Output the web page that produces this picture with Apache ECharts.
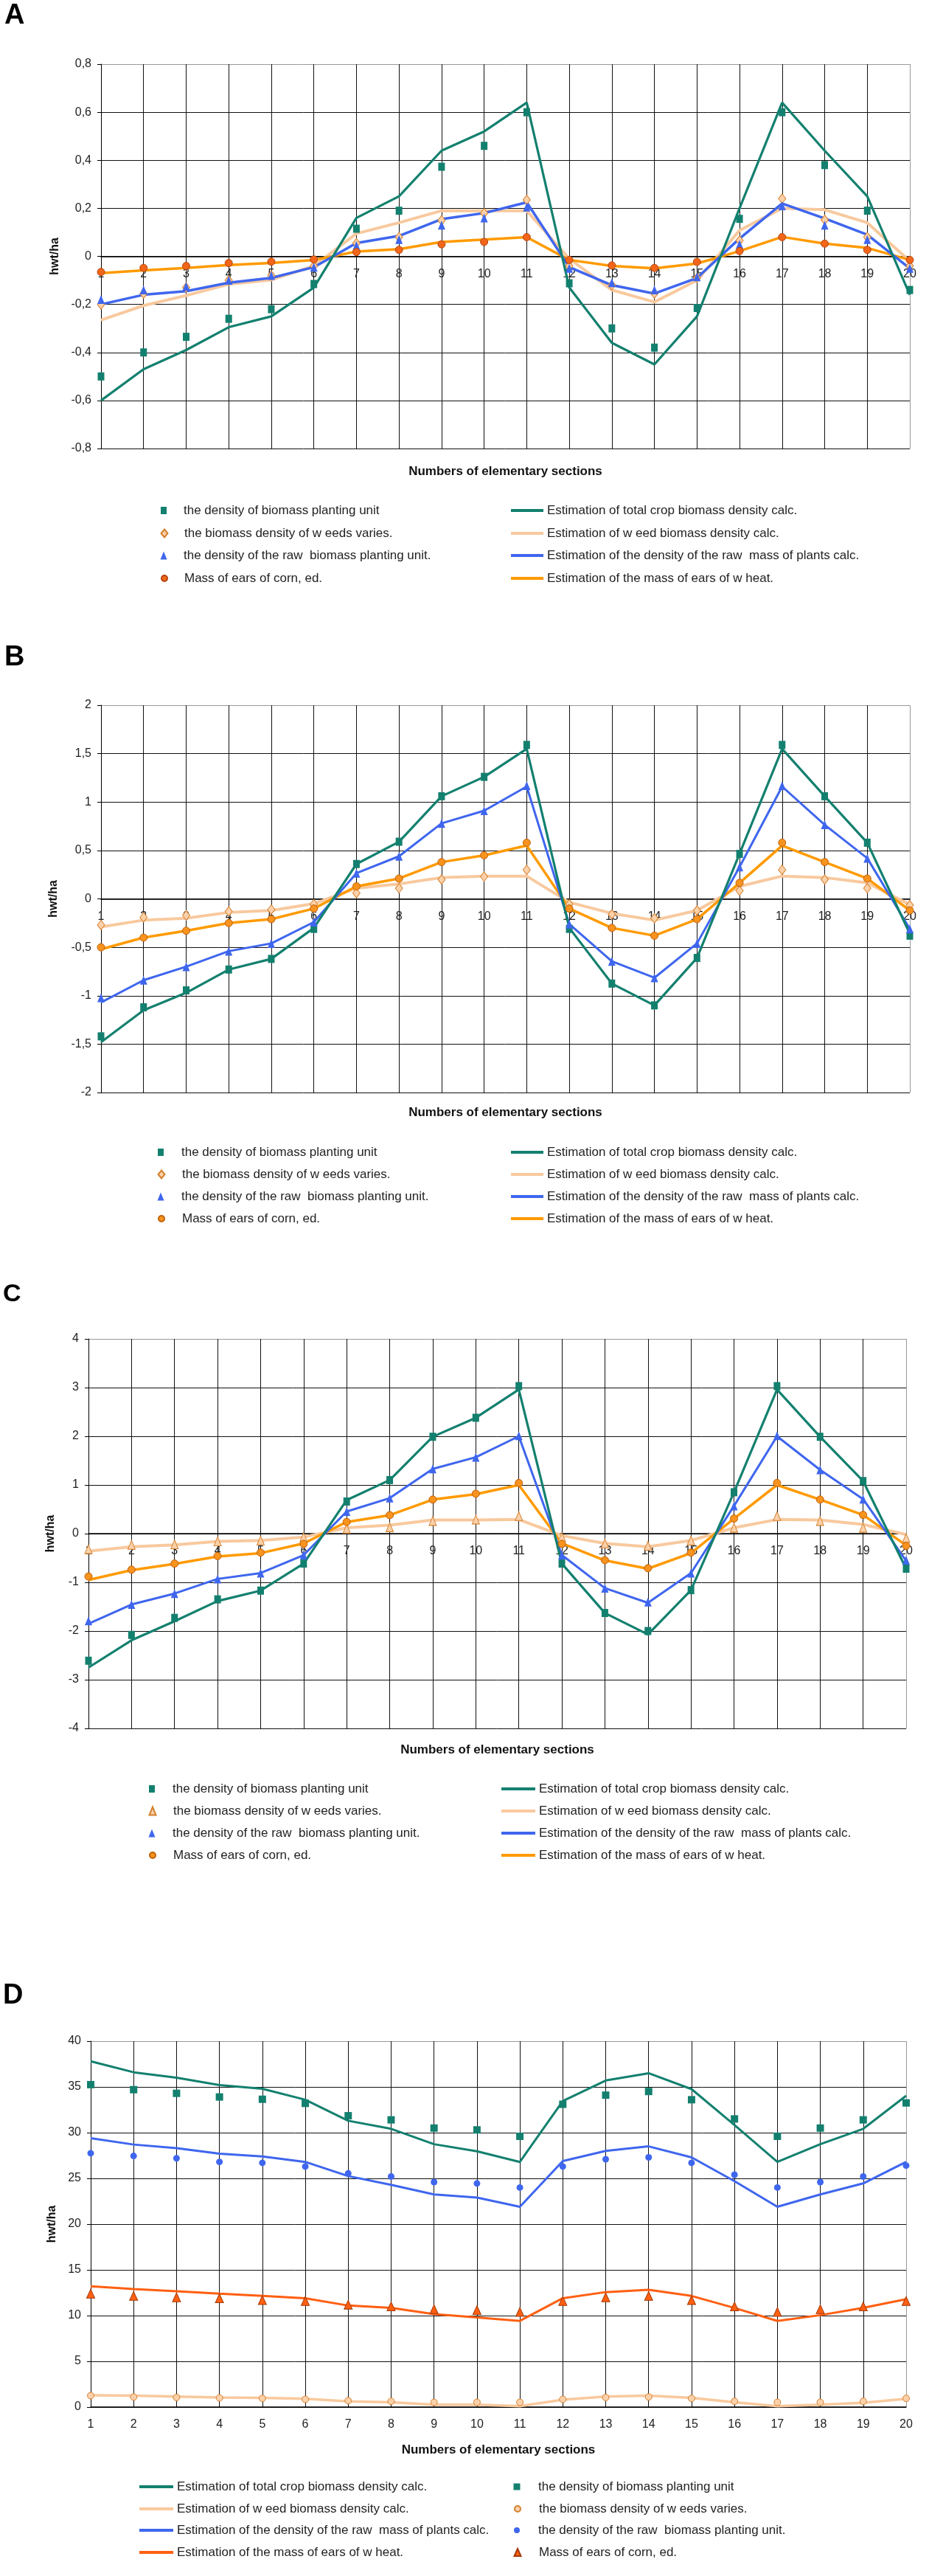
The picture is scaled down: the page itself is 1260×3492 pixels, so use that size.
<!DOCTYPE html>
<html><head><meta charset="utf-8">
<script src="https://cdn.jsdelivr.net/npm/echarts@6/dist/echarts.min.js"></script>
<style>
html,body{margin:0;padding:0;background:#fff;width:1260px;height:3492px;overflow:hidden}
.p{position:absolute;left:0;width:1260px}
</style>
</head><body>
<div id="pA" class="p" style="top:0px;height:815px"></div>
<div id="pB" class="p" style="top:815px;height:865px"></div>
<div id="pC" class="p" style="top:1680px;height:860px"></div>
<div id="pD" class="p" style="top:2540px;height:952px"></div>
<script>
// ---------- categories ----------
const categories = ['1','2','3','4','5','6','7','8','9','10','11','12','13','14','15','16','17','18','19','20'];
const xAxisTitle = 'Numbers of elementary sections';
const yAxisTitle = 'hwt/ha';

// ---------- legend names ----------
const N_totalObs = 'the density of biomass planting unit';
const N_totalCalc = 'Estimation of total crop biomass density calc.';
const N_weedObs = 'the biomass density of w eeds varies.';
const N_weedCalc = 'Estimation of w eed biomass density calc.';
const N_rawObs = 'the density of the raw  biomass planting unit.';
const N_rawCalc = 'Estimation of the density of the raw  mass of plants calc.';
const N_earsObs = 'Mass of ears of corn, ed.';
const N_wheatCalc = 'Estimation of the mass of ears of w heat.';

// ---------- panel A ----------
const A_totalObs = [-0.50,-0.40,-0.335,-0.26,-0.22,-0.115,0.115,0.19,0.373,0.46,0.60,-0.112,-0.30,-0.38,-0.215,0.156,0.60,0.38,0.19,-0.14];
const A_totalCalc = [-0.60,-0.47,-0.39,-0.295,-0.25,-0.13,0.16,0.25,0.44,0.52,0.64,-0.13,-0.36,-0.45,-0.25,0.20,0.64,0.44,0.25,-0.16];
const A_weedObs = [-0.20,-0.155,-0.13,-0.10,-0.08,-0.04,0.055,0.08,0.15,0.18,0.235,-0.04,-0.12,-0.155,-0.09,0.066,0.24,0.152,0.08,-0.04];
const A_weedCalc = [-0.265,-0.205,-0.163,-0.116,-0.098,-0.04,0.095,0.14,0.19,0.19,0.19,-0.01,-0.14,-0.19,-0.10,0.108,0.20,0.194,0.14,-0.02];
const A_rawObs = [-0.18,-0.14,-0.125,-0.10,-0.08,-0.045,0.045,0.07,0.13,0.16,0.205,-0.05,-0.11,-0.14,-0.085,0.05,0.21,0.13,0.07,-0.05];
const A_rawCalc = [-0.20,-0.16,-0.145,-0.11,-0.09,-0.045,0.055,0.085,0.155,0.18,0.225,-0.045,-0.12,-0.155,-0.09,0.074,0.22,0.158,0.09,-0.05];
const A_earsObs = [-0.065,-0.048,-0.04,-0.028,-0.022,-0.013,0.018,0.027,0.05,0.06,0.08,-0.015,-0.038,-0.048,-0.023,0.022,0.08,0.053,0.027,-0.015];
const A_wheatCalc = [-0.07,-0.058,-0.048,-0.036,-0.028,-0.015,0.02,0.03,0.06,0.07,0.08,-0.015,-0.04,-0.05,-0.03,0.022,0.081,0.053,0.035,-0.015];

// ---------- panel B ----------
const B_totalObs = [-1.42,-1.12,-0.945,-0.73,-0.62,-0.31,0.36,0.59,1.06,1.26,1.59,-0.31,-0.875,-1.10,-0.61,0.465,1.59,1.06,0.58,-0.38];
const B_totalCalc = [-1.48,-1.15,-0.97,-0.73,-0.62,-0.30,0.36,0.59,1.06,1.26,1.55,-0.30,-0.875,-1.10,-0.61,0.465,1.55,1.06,0.58,-0.36];
const B_weedObs = [-0.27,-0.19,-0.17,-0.13,-0.11,-0.055,0.06,0.11,0.20,0.23,0.30,-0.055,-0.16,-0.20,-0.12,0.085,0.30,0.20,0.11,-0.065];
const B_weedCalc = [-0.29,-0.22,-0.20,-0.14,-0.12,-0.05,0.11,0.155,0.22,0.235,0.235,-0.035,-0.15,-0.22,-0.12,0.13,0.235,0.22,0.165,-0.06];
const B_rawObs = [-1.02,-0.84,-0.70,-0.54,-0.46,-0.24,0.265,0.44,0.78,0.91,1.17,-0.26,-0.645,-0.815,-0.46,0.33,1.17,0.765,0.42,-0.31];
const B_rawCalc = [-1.07,-0.84,-0.70,-0.54,-0.46,-0.24,0.265,0.44,0.78,0.91,1.16,-0.26,-0.645,-0.815,-0.46,0.33,1.16,0.765,0.42,-0.31];
const B_earsObs = [-0.50,-0.40,-0.33,-0.25,-0.21,-0.10,0.13,0.21,0.38,0.45,0.58,-0.10,-0.30,-0.38,-0.21,0.165,0.58,0.38,0.21,-0.12];
const B_wheatCalc = [-0.52,-0.40,-0.33,-0.25,-0.21,-0.10,0.13,0.21,0.38,0.45,0.55,-0.10,-0.30,-0.38,-0.21,0.165,0.55,0.38,0.21,-0.12];

// ---------- panel C ----------
const C_totalObs = [-2.61,-2.08,-1.73,-1.35,-1.17,-0.615,0.66,1.10,1.99,2.38,3.03,-0.615,-1.63,-2.0,-1.16,0.85,3.03,1.99,1.08,-0.72];
const C_totalCalc = [-2.75,-2.19,-1.80,-1.385,-1.17,-0.615,0.69,1.10,1.99,2.38,2.96,-0.615,-1.63,-2.07,-1.16,0.85,2.96,1.99,1.08,-0.72];
const C_weedObs = [-0.32,-0.23,-0.22,-0.16,-0.14,-0.07,0.10,0.13,0.26,0.29,0.36,-0.07,-0.20,-0.25,-0.14,0.12,0.36,0.26,0.12,-0.09];
const C_weedCalc = [-0.36,-0.27,-0.23,-0.16,-0.14,-0.07,0.12,0.175,0.28,0.28,0.29,-0.04,-0.20,-0.27,-0.14,0.12,0.29,0.28,0.19,-0.02];
const C_rawObs = [-1.79,-1.455,-1.23,-0.93,-0.81,-0.44,0.455,0.73,1.33,1.57,2.01,-0.44,-1.12,-1.405,-0.81,0.57,2.01,1.31,0.71,-0.545];
const C_rawCalc = [-1.85,-1.455,-1.23,-0.93,-0.81,-0.44,0.455,0.73,1.33,1.57,2.0,-0.44,-1.12,-1.42,-0.81,0.57,2.0,1.31,0.71,-0.56];
const C_earsObs = [-0.88,-0.74,-0.615,-0.46,-0.39,-0.21,0.24,0.38,0.70,0.82,1.04,-0.21,-0.545,-0.71,-0.39,0.31,1.04,0.70,0.385,-0.25];
const C_wheatCalc = [-0.95,-0.75,-0.62,-0.47,-0.40,-0.20,0.24,0.38,0.70,0.81,1.0,-0.20,-0.55,-0.72,-0.40,0.31,1.0,0.70,0.385,-0.24];

// ---------- panel D ----------
const D_totalCalc = [37.8,36.6,36.0,35.2,34.8,33.6,31.3,30.42,28.74,27.96,26.8,33.45,35.7,36.5,34.76,30.84,26.8,28.74,30.42,34.03];
const D_totalObs = [35.25,34.7,34.3,33.9,33.65,33.2,31.85,31.4,30.5,30.3,29.6,33.1,34.1,34.5,33.6,31.5,29.6,30.5,31.4,33.25];
const D_rawCalc = [29.4,28.7,28.3,27.7,27.4,26.8,25.25,24.3,23.25,22.9,21.9,26.9,28.0,28.5,27.3,24.7,21.9,23.25,24.45,26.8];
const D_rawObs = [27.75,27.45,27.2,26.8,26.7,26.3,25.55,25.2,24.6,24.45,24.0,26.3,27.1,27.3,26.7,25.4,24.0,24.6,25.2,26.4];
const D_wheatCalc = [13.2,12.9,12.67,12.4,12.15,11.9,11.1,10.84,10.16,9.8,9.42,11.9,12.57,12.83,12.15,10.84,9.42,10.05,10.84,11.8];
const D_earsObs = [12.4,12.15,12.0,11.9,11.7,11.6,11.2,11.0,10.7,10.6,10.4,11.6,12.0,12.15,11.7,11.0,10.4,10.7,11.0,11.6];
const D_weedCalc = [1.3,1.25,1.15,1.05,1.0,0.9,0.63,0.52,0.26,0.26,0.1,0.8,1.15,1.25,1.0,0.52,0.1,0.26,0.47,0.9];
const D_weedObs = [1.25,1.1,1.05,1.0,0.95,0.85,0.7,0.63,0.52,0.52,0.52,0.85,1.05,1.1,0.95,0.63,0.52,0.52,0.63,0.95];

// ---------- styling ----------
const FONT = '"Liberation Sans", Arial, sans-serif';
const TEAL = '#13806f';
const PEACH = '#f8c99e';
const BLUE = '#3f66ee';
const ORANGE = '#ff9a00';
const REDOR = '#ff5f12';
const LEG_FS = 17, LEG_LH = 18;

function lineS(name, data, color, width) {
  return { type: 'line', name: name, data: data, color: color, symbol: 'none', z: 2,
    lineStyle: { color: color, width: width }, itemStyle: { color: color }, silent: true, animation: false };
}
function dotS(name, data, symbol, size, color, border) {
  return { type: 'scatter', name: name, data: data, symbol: symbol, symbolSize: size, z: 5,
    itemStyle: { color: color, borderColor: border || color, borderWidth: border ? 1 : 0, opacity: 1 },
    silent: true, animation: false };
}

function fmtY(v) { const r = Math.round(v * 100) / 100; return String(r).replace('.', ','); }

function buildOption(P) {
  const T = P.divTop;
  const gl = P.grid[0], gt = P.grid[1] - T, gw = P.grid[2] - P.grid[0], gh = P.grid[3] - P.grid[1];
  const zeroY = gt + gh * (P.yMax - 0) / (P.yMax - P.yMin);
  const xOffset = zeroY - (gt + gh);
  const nY = Math.round((P.yMax - P.yMin) / P.yInt) + 1;
  const yCols = []; for (let i = 0; i < nY; i++) yCols.push(i === nY - 1 ? '#999' : '#111');
  const xCols = []; for (let i = 0; i < categories.length; i++) xCols.push(i === categories.length - 1 ? '#999' : '#111');
  const legends = [];
  P.legendRows.forEach(function (row, i) {
    const y = row - T - LEG_LH / 2;
    [P.colL, P.colR].forEach(function (col) {
      const e = col.items[i];
      const ts = { fontSize: LEG_FS, fontFamily: FONT, color: '#222', lineHeight: LEG_LH };
      if (e.icon === 'line') {
        legends.push({
          show: true, orient: 'horizontal', left: col.x, top: y, padding: 0, itemGap: 0,
          itemWidth: col.w, itemHeight: 4, selectedMode: false,
          data: [{ name: e.name, icon: 'rect' }], textStyle: ts
        });
      } else {
        const sz = e.size;
        const spacer = Math.max(0, col.textX - (col.cx + sz / 2) - 5);
        ts.rich = { s: { width: spacer, fontSize: LEG_FS, lineHeight: LEG_LH } };
        legends.push({
          show: true, orient: 'horizontal', left: col.cx - sz / 2, top: y, padding: 0, itemGap: 0,
          itemWidth: sz, itemHeight: e.h || sz, selectedMode: false,
          data: [{ name: e.name, icon: e.icon }], textStyle: ts,
          formatter: function (n) { return '{s|}' + n; }
        });
      }
    });
  });
  return {
    animation: false,
    backgroundColor: 'transparent',
    textStyle: { fontFamily: FONT },
    title: [{ text: P.label, left: P.labelX, top: P.labelTop - T, padding: 0,
      textStyle: { fontSize: P.labelSize, fontWeight: 'bold', fontFamily: FONT, color: '#000' } }],
    graphic: [{ type: 'text', x: gl + gw / 2, y: P.xNameY - T, silent: true,
      style: { text: xAxisTitle, textAlign: 'center', textVerticalAlign: 'middle', align: 'center', verticalAlign: 'middle',
        font: 'bold 17px ' + FONT, fill: '#111' } }],
    legend: legends,
    grid: [{ left: gl, top: gt, width: gw, height: gh, containLabel: false, outerBoundsMode: 'none', show: false }],
    xAxis: [{ type: 'category', data: categories, boundaryGap: false, position: 'bottom', offset: xOffset,
      axisLine: { show: true, onZero: false, lineStyle: { color: '#000', width: 1.5 } },
      axisTick: { show: false },
      axisLabel: { show: true, interval: 0, margin: P.xLabMargin, fontSize: 16, color: '#222', fontFamily: FONT },
      splitLine: { show: true, interval: 0, lineStyle: { color: xCols, width: 1 } } }],
    yAxis: [{ type: 'value', min: P.yMin, max: P.yMax, interval: P.yInt,
      name: yAxisTitle, nameLocation: 'middle', nameGap: P.yNameGap, nameRotate: 90,
      nameTextStyle: { fontSize: 16, fontWeight: 'bold', color: '#111', fontFamily: FONT },
      axisLine: { show: true, lineStyle: { color: '#000', width: 1 } },
      axisTick: { show: true, length: 5, lineStyle: { color: '#000' } },
      axisLabel: { show: true, margin: 13, fontSize: 16, color: '#222', fontFamily: FONT, formatter: fmtY },
      splitLine: { show: true, lineStyle: { color: yCols, width: 1 } } }],
    series: P.series
  };
}

const markerItemsABC = function (weedIcon) {
  return [
    { name: N_totalObs, icon: 'rect', size: 8, h: 10 },
    { name: N_weedObs, icon: weedIcon, size: 9, h: 11 },
    { name: N_rawObs, icon: 'triangle', size: 9, h: 11 },
    { name: N_earsObs, icon: 'circle', size: 8, h: 9 }];
};
const lineItems = [
  { name: N_totalCalc, icon: 'line' }, { name: N_weedCalc, icon: 'line' },
  { name: N_rawCalc, icon: 'line' }, { name: N_wheatCalc, icon: 'line' }];

const panels = [
  { id: 'pA', divTop: 0, label: 'A', labelX: 6, labelTop: 3, labelSize: 38,
    grid: [137, 87, 1234, 608], yMin: -0.8, yMax: 0.8, yInt: 0.2, yNameGap: 54, xLabMargin: 16, xNameY: 639,
    legendRows: [692, 723, 753, 784],
    colL: { cx: 222, textX: 249, items: markerItemsABC('diamond') },
    colR: { x: 693, w: 44, items: lineItems },
    series: [
      lineS(N_weedCalc, A_weedCalc, PEACH, 4),
      lineS(N_wheatCalc, A_wheatCalc, ORANGE, 3.5),
      lineS(N_rawCalc, A_rawCalc, BLUE, 3.5),
      lineS(N_totalCalc, A_totalCalc, TEAL, 3.2),
      dotS(N_totalObs, A_totalObs, 'rect', [9, 11], TEAL),
      dotS(N_weedObs, A_weedObs, 'diamond', [10, 13], '#fbd1aa', '#d4802e'),
      dotS(N_rawObs, A_rawObs, 'triangle', [10, 12], BLUE),
      dotS(N_earsObs, A_earsObs, 'circle', 10, '#f2661a', '#b34510')
    ] },
  { id: 'pB', divTop: 815, label: 'B', labelX: 6, labelTop: 873, labelSize: 38,
    grid: [137, 956, 1234, 1481], yMin: -2, yMax: 2, yInt: 0.5, yNameGap: 56, xLabMargin: 16, xNameY: 1508,
    legendRows: [1562, 1592, 1622, 1652],
    colL: { cx: 218, textX: 246, items: markerItemsABC('diamond') },
    colR: { x: 693, w: 44, items: lineItems },
    series: [
      lineS(N_weedCalc, B_weedCalc, PEACH, 4),
      lineS(N_wheatCalc, B_wheatCalc, ORANGE, 3.5),
      lineS(N_rawCalc, B_rawCalc, BLUE, 3),
      lineS(N_totalCalc, B_totalCalc, TEAL, 3.2),
      dotS(N_totalObs, B_totalObs, 'rect', [9, 11], TEAL),
      dotS(N_weedObs, B_weedObs, 'diamond', [10, 13], '#fbd1aa', '#d4802e'),
      dotS(N_rawObs, B_rawObs, 'triangle', [10, 12], BLUE),
      dotS(N_earsObs, B_earsObs, 'circle', 10, '#f7931e', '#c0600c')
    ] },
  { id: 'pC', divTop: 1680, label: 'C', labelX: 4, labelTop: 1738, labelSize: 34,
    grid: [120, 1815, 1229, 2343], yMin: -4, yMax: 4, yInt: 1, yNameGap: 43, xLabMargin: 16, xNameY: 2372,
    legendRows: [2425, 2455, 2485, 2515],
    colL: { cx: 206, textX: 234, items: markerItemsABC('triangle') },
    colR: { x: 680, w: 46, items: lineItems },
    series: [
      lineS(N_weedCalc, C_weedCalc, PEACH, 4),
      lineS(N_wheatCalc, C_wheatCalc, ORANGE, 3.5),
      lineS(N_rawCalc, C_rawCalc, BLUE, 3),
      lineS(N_totalCalc, C_totalCalc, TEAL, 3.2),
      dotS(N_totalObs, C_totalObs, 'rect', [9, 11], TEAL),
      dotS(N_weedObs, C_weedObs, 'triangle', [10, 12], '#fbd1aa', '#d4802e'),
      dotS(N_rawObs, C_rawObs, 'triangle', [10, 12], BLUE),
      dotS(N_earsObs, C_earsObs, 'circle', 10, '#f7931e', '#c0600c')
    ] },
  { id: 'pD', divTop: 2540, label: 'D', labelX: 4, labelTop: 2687, labelSize: 38,
    grid: [123, 2767, 1229, 3263], yMin: 0, yMax: 40, yInt: 5, yNameGap: 44, xLabMargin: 16, xNameY: 3321,
    legendRows: [3371, 3401, 3430, 3460],
    colL: { x: 189, w: 46, items: lineItems },
    colR: { cx: 701, textX: 730, items: [
      { name: N_totalObs, icon: 'rect', size: 9, h: 9 },
      { name: N_weedObs, icon: 'circle', size: 8, h: 8 },
      { name: N_rawObs, icon: 'circle', size: 8, h: 8 },
      { name: N_earsObs, icon: 'triangle', size: 9, h: 10 }] },
    series: [
      lineS(N_weedCalc, D_weedCalc, PEACH, 3.5),
      lineS(N_wheatCalc, D_wheatCalc, REDOR, 3),
      lineS(N_rawCalc, D_rawCalc, BLUE, 3),
      lineS(N_totalCalc, D_totalCalc, TEAL, 3),
      dotS(N_totalObs, D_totalObs, 'rect', 10, TEAL),
      dotS(N_weedObs, D_weedObs, 'circle', 9, '#fbd1aa', '#d4802e'),
      dotS(N_rawObs, D_rawObs, 'circle', 9, BLUE),
      dotS(N_earsObs, D_earsObs, 'triangle', [11, 12], '#ff5f12', '#a33a08')
    ] }
];

panels.forEach(function (P) {
  const chart = echarts.init(document.getElementById(P.id), null, { renderer: 'canvas' });
  chart.setOption(buildOption(P));
});
</script>
</body></html>
